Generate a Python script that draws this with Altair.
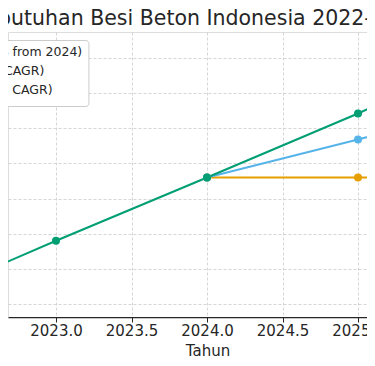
import altair as alt
import pandas as pd

# ---- data ----
labels = ["Stagnan (0% from 2024)", "Agresif (8% CAGR)", "Moderat (5% CAGR)"]
colors = ["#E69F00", "#009E73", "#56B4E9"]

years_stagnan = [2024, 2025, 2026]
stagnan = [10.80, 10.80, 10.80]

years_moderat = [2024, 2025, 2026]
moderat = [10.80, 11.34, 11.91]

years_agresif = [2022, 2023, 2024, 2025, 2026]
agresif = [8.97, 9.90, 10.80, 11.71, 12.69]

x_ticks = [2023.0, 2023.5, 2024.0, 2024.5, 2025.0]
y_grid = [9.0, 9.5, 10.0, 10.5, 11.0, 11.5, 12.0, 12.5]

title_text = ["Proyeksi Kebutuhan Besi Beton Indonesia 2022-2030"]

rows = []
for yrs, vals, lab in [(years_stagnan, stagnan, labels[0]),
                       (years_moderat, moderat, labels[2]),
                       (years_agresif, agresif, labels[1])]:
    for y, v in zip(yrs, vals):
        rows.append({"Tahun": y, "Nilai": v, "Skenario": lab})
df = pd.DataFrame(rows)

FONT = "DejaVu Sans"
TXT = "#262626"

x_enc = alt.X(
    "Tahun:Q",
    scale=alt.Scale(domain=[2022.682, 2025.0596], nice=False, zero=False),
    axis=alt.Axis(
        values=x_ticks, format=".1f", grid=True,
        gridColor="#cccccc", gridDash=[3, 2], gridWidth=0.8,
        domainColor=TXT, domainWidth=1.25,
        tickColor=TXT, tickSize=5, tickWidth=1,
        labelFont=FONT, labelFontSize=15, labelColor=TXT, labelPadding=1,
        labelFlush=False, labelOverlap=False,
        title="Tahun", titleFont=FONT, titleFontSize=15, titleFontWeight="normal",
        titleColor=TXT, titleX=199.5, titleY=38, titleBaseline="alphabetic",
        titleAlign="center", titleAnchor="start",
    ),
)
y_enc = alt.Y(
    "Nilai:Q",
    scale=alt.Scale(domain=[8.815, 12.87], nice=False, zero=False),
    axis=alt.Axis(
        values=y_grid, labels=False, ticks=False, domain=False, grid=True,
        gridColor="#cccccc", gridDash=[3, 2], gridWidth=0.8, title=None,
    ),
)
color_enc = alt.Color(
    "Skenario:N",
    scale=alt.Scale(domain=labels, range=colors),
    legend=alt.Legend(
        title=None, orient="none", legendX=-106.6, legendY=8,
        fillColor="white", strokeColor="#cccccc", cornerRadius=3, padding=6,
        labelFont=FONT, labelFontSize=12.5, labelColor=TXT, labelOffset=8,
        symbolSize=100, rowPadding=0, symbolStrokeWidth=2,
    ),
)

base = alt.Chart(df).encode(x=x_enc, y=y_enc, color=color_enc)
lines = base.mark_line(strokeWidth=2, clip=True)
points = base.mark_point(filled=True, size=64, opacity=1, clip=True)

title = alt.Chart(pd.DataFrame({"judul": title_text})).mark_text(
    align="left", baseline="alphabetic", font=FONT, fontSize=20.5, color=TXT,
).encode(text="judul:N", x=alt.value(-127), y=alt.value(-7))

chart = alt.layer(lines, points, title).properties(
    width=359, height=285,
    autosize=alt.AutoSizeParams(type="none"),
    padding={"left": 0, "top": 24, "right": 0, "bottom": 43},
).configure_view(stroke="transparent").configure(background="white")

chart.save("out.html", embed_options={"renderer": "svg", "actions": False})
